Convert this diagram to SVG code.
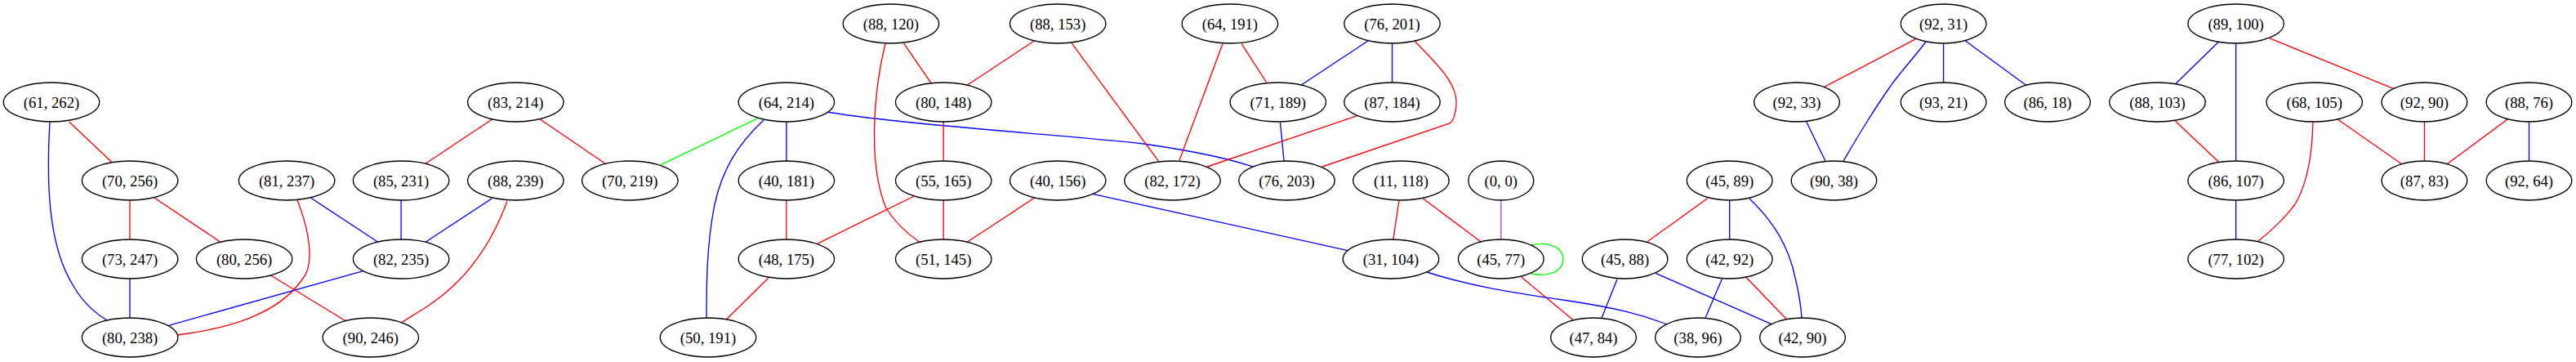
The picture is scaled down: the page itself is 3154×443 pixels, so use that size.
<svg xmlns="http://www.w3.org/2000/svg" width="3154" height="443" viewBox="0 0 3154 443">
<style>
.node ellipse{fill:none;stroke:#000;stroke-width:1.33}
.node text{font-family:"Liberation Serif","Times New Roman",serif;font-size:18.67px;text-anchor:middle;fill:#000}
#edges path,#edges line{fill:none;stroke-width:1.33}
.r{stroke:#ff0000}
.b{stroke:#0000ff}
.g{stroke:#00ff00}
.p{stroke:#a840f0}
</style>
<rect width="3154" height="443" fill="#fff"/>
<g id="edges">
<line class="r" x1="84.6" y1="149" x2="137.5" y2="199"/>
<path class="b" d="M61,149 C57,220 58,300 90,350 C100,368 115,382 131,392"/>
<line class="r" x1="159" y1="245" x2="159" y2="293"/>
<line class="r" x1="189.3" y1="242.3" x2="269.6" y2="296"/>
<line class="b" x1="159" y1="341" x2="159" y2="389"/>
<line class="b" x1="380.7" y1="242.3" x2="462.5" y2="296"/>
<path class="r" d="M364,245 C380,285 385,325 370,342 C340,385 280,402 217,410"/>
<line class="b" x1="491.1" y1="245" x2="491.1" y2="293"/>
<line class="b" x1="444.6" y1="331.7" x2="206.4" y2="398.3"/>
<line class="r" x1="332.1" y1="337.3" x2="423.2" y2="392.7"/>
<line class="r" x1="602.5" y1="146" x2="521.4" y2="200"/>
<line class="b" x1="602.5" y1="242.7" x2="521.4" y2="296"/>
<path class="r" d="M621,246 C605,290 585,320 560,345 C535,370 510,383 491,395"/>
<line class="r" x1="661.4" y1="146" x2="741.8" y2="200.7"/>
<line class="g" x1="928.6" y1="144.3" x2="807.9" y2="202.3"/>
<path class="b" d="M935,147 C905,175 885,205 875,250 C865,300 865,350 865,389"/>
<line class="b" x1="962.9" y1="149" x2="962.9" y2="197"/>
<path class="b" d="M1013,137 C1100,152 1300,165 1400,176 C1470,186 1510,196 1534,204"/>
<line class="r" x1="962.9" y1="245" x2="962.9" y2="293"/>
<line class="r" x1="941" y1="340" x2="889.3" y2="391"/>
<line class="r" x1="1119.3" y1="240" x2="1000.7" y2="298.3"/>
<path class="r" d="M1084,53 C1070,110 1062,200 1085,255 C1098,275 1112,287 1127,297"/>
<line class="r" x1="1106.8" y1="53.3" x2="1140" y2="101.7"/>
<line class="r" x1="1266.4" y1="50" x2="1184.6" y2="104"/>
<line class="r" x1="1312" y1="52.7" x2="1418.6" y2="197.3"/>
<line class="r" x1="1497.1" y1="53.3" x2="1443.6" y2="197.3"/>
<line class="r" x1="1520" y1="53.3" x2="1550.7" y2="101"/>
<line class="r" x1="1155.2" y1="149" x2="1155.2" y2="197"/>
<line class="r" x1="1155.2" y1="245" x2="1155.2" y2="293"/>
<line class="r" x1="1266.4" y1="242.3" x2="1184.6" y2="296"/>
<line class="b" x1="1337.9" y1="237.3" x2="1650.4" y2="306.7"/>
<line class="b" x1="1675" y1="50" x2="1593.3" y2="104"/>
<line class="b" x1="1704.5" y1="53" x2="1704.5" y2="101"/>
<path class="r" d="M1732,50 C1755,75 1785,100 1783,128 C1782,142 1779,148 1775,151 L1619,204"/>
<line class="r" x1="1661.7" y1="141.7" x2="1478.2" y2="204"/>
<line class="b" x1="1567.5" y1="150" x2="1572.1" y2="197.3"/>
<line class="r" x1="1712.9" y1="245.7" x2="1705.7" y2="294"/>
<line class="r" x1="1742.1" y1="242.7" x2="1812.9" y2="295.7"/>
<line class="p" x1="1837.8" y1="245" x2="1837.8" y2="293"/>
<path class="g" d="M1875,300 C1897,295 1914,303 1914,317.3 C1914,332 1897,339 1875,335"/>
<line class="r" x1="1862.9" y1="339.3" x2="1926.4" y2="391.7"/>
<path class="b" d="M1747,333 C1800,350 1850,358 1920,368 C1980,377 2010,385 2041,397"/>
<line class="r" x1="2090.7" y1="242.7" x2="2017.1" y2="295.7"/>
<line class="b" x1="2117.7" y1="245" x2="2117.7" y2="293"/>
<path class="b" d="M2142,243 C2170,270 2190,300 2198,340 C2203,360 2205,375 2206,389"/>
<line class="b" x1="1980" y1="341.7" x2="1961" y2="389.3"/>
<line class="b" x1="2027.1" y1="334.3" x2="2168.9" y2="396.7"/>
<line class="b" x1="2108.6" y1="340.7" x2="2087.9" y2="389.3"/>
<line class="r" x1="2137.9" y1="339.3" x2="2186.8" y2="390"/>
<line class="r" x1="2345.7" y1="47.7" x2="2233.2" y2="106.7"/>
<path class="b" d="M2358,51 C2340,75 2325,90 2315,105 C2290,140 2270,175 2257,197"/>
<line class="b" x1="2379.6" y1="53" x2="2379.6" y2="101"/>
<line class="b" x1="2406.4" y1="50" x2="2480.7" y2="104.3"/>
<line class="b" x1="2211.8" y1="149" x2="2235" y2="197.3"/>
<line class="b" x1="2715.9" y1="51.7" x2="2663.6" y2="102.7"/>
<line class="b" x1="2737.6" y1="53" x2="2737.6" y2="197"/>
<line class="r" x1="2778.4" y1="46.7" x2="2930.4" y2="108.3"/>
<line class="r" x1="2663.6" y1="148.3" x2="2716.6" y2="198.3"/>
<line class="r" x1="2862.2" y1="146" x2="2941" y2="201"/>
<path class="r" d="M2832,149 C2831,190 2825,225 2810,250 C2795,270 2780,283 2765,295"/>
<line class="r" x1="2968.4" y1="149" x2="2968.4" y2="197"/>
<line class="r" x1="3070" y1="146" x2="2995.8" y2="201"/>
<line class="b" x1="3096.5" y1="149" x2="3096.5" y2="197"/>
<line class="b" x1="2737.6" y1="245" x2="2737.6" y2="293"/>
</g>
<g id="n_61_262" class="node"><ellipse cx="63" cy="125" rx="58.7" ry="24"/><text x="63" y="131.5">(61, 262)</text></g>
<g id="n_70_256" class="node"><ellipse cx="159.1" cy="221" rx="58.7" ry="24"/><text x="159.1" y="227.5">(70, 256)</text></g>
<g id="n_81_237" class="node"><ellipse cx="351.1" cy="221" rx="58.7" ry="24"/><text x="351.1" y="227.5">(81, 237)</text></g>
<g id="n_85_231" class="node"><ellipse cx="491.1" cy="221" rx="58.7" ry="24"/><text x="491.1" y="227.5">(85, 231)</text></g>
<g id="n_73_247" class="node"><ellipse cx="159.1" cy="317" rx="58.7" ry="24"/><text x="159.1" y="323.5">(73, 247)</text></g>
<g id="n_80_256" class="node"><ellipse cx="299.1" cy="317" rx="58.7" ry="24"/><text x="299.1" y="323.5">(80, 256)</text></g>
<g id="n_82_235" class="node"><ellipse cx="491.1" cy="317" rx="58.7" ry="24"/><text x="491.1" y="323.5">(82, 235)</text></g>
<g id="n_80_238" class="node"><ellipse cx="159.1" cy="413" rx="58.7" ry="24"/><text x="159.1" y="419.5">(80, 238)</text></g>
<g id="n_90_246" class="node"><ellipse cx="453.8" cy="413" rx="58.7" ry="24"/><text x="453.8" y="419.5">(90, 246)</text></g>
<g id="n_83_214" class="node"><ellipse cx="631.3" cy="125" rx="58.7" ry="24"/><text x="631.3" y="131.5">(83, 214)</text></g>
<g id="n_88_239" class="node"><ellipse cx="631.3" cy="221" rx="58.7" ry="24"/><text x="631.3" y="227.5">(88, 239)</text></g>
<g id="n_70_219" class="node"><ellipse cx="771.3" cy="221" rx="58.7" ry="24"/><text x="771.3" y="227.5">(70, 219)</text></g>
<g id="n_64_214" class="node"><ellipse cx="962.9" cy="125" rx="58.7" ry="24"/><text x="962.9" y="131.5">(64, 214)</text></g>
<g id="n_40_181" class="node"><ellipse cx="962.9" cy="221" rx="58.7" ry="24"/><text x="962.9" y="227.5">(40, 181)</text></g>
<g id="n_48_175" class="node"><ellipse cx="962.9" cy="317" rx="58.7" ry="24"/><text x="962.9" y="323.5">(48, 175)</text></g>
<g id="n_50_191" class="node"><ellipse cx="867" cy="413" rx="58.7" ry="24"/><text x="867" y="419.5">(50, 191)</text></g>
<g id="n_88_120" class="node"><ellipse cx="1090.9" cy="29" rx="58.7" ry="24"/><text x="1090.9" y="35.5">(88, 120)</text></g>
<g id="n_88_153" class="node"><ellipse cx="1295.2" cy="29" rx="58.7" ry="24"/><text x="1295.2" y="35.5">(88, 153)</text></g>
<g id="n_64_191" class="node"><ellipse cx="1505.9" cy="29" rx="58.7" ry="24"/><text x="1505.9" y="35.5">(64, 191)</text></g>
<g id="n_80_148" class="node"><ellipse cx="1155.2" cy="125" rx="58.7" ry="24"/><text x="1155.2" y="131.5">(80, 148)</text></g>
<g id="n_71_189" class="node"><ellipse cx="1564.8" cy="125" rx="58.7" ry="24"/><text x="1564.8" y="131.5">(71, 189)</text></g>
<g id="n_55_165" class="node"><ellipse cx="1155.2" cy="221" rx="58.7" ry="24"/><text x="1155.2" y="227.5">(55, 165)</text></g>
<g id="n_40_156" class="node"><ellipse cx="1295.2" cy="221" rx="58.7" ry="24"/><text x="1295.2" y="227.5">(40, 156)</text></g>
<g id="n_82_172" class="node"><ellipse cx="1435.5" cy="221" rx="58.7" ry="24"/><text x="1435.5" y="227.5">(82, 172)</text></g>
<g id="n_76_203" class="node"><ellipse cx="1575.5" cy="221" rx="58.7" ry="24"/><text x="1575.5" y="227.5">(76, 203)</text></g>
<g id="n_51_145" class="node"><ellipse cx="1155.2" cy="317" rx="58.7" ry="24"/><text x="1155.2" y="323.5">(51, 145)</text></g>
<g id="n_76_201" class="node"><ellipse cx="1704.5" cy="29" rx="58.7" ry="24"/><text x="1704.5" y="35.5">(76, 201)</text></g>
<g id="n_87_184" class="node"><ellipse cx="1704.5" cy="125" rx="58.7" ry="24"/><text x="1704.5" y="131.5">(87, 184)</text></g>
<g id="n_11_118" class="node"><ellipse cx="1715.4" cy="221" rx="58.7" ry="24"/><text x="1715.4" y="227.5">(11, 118)</text></g>
<g id="n_0_0" class="node"><ellipse cx="1837.8" cy="221" rx="40" ry="24"/><text x="1837.8" y="227.5">(0, 0)</text></g>
<g id="n_45_89" class="node"><ellipse cx="2117.7" cy="221" rx="52.3" ry="24"/><text x="2117.7" y="227.5">(45, 89)</text></g>
<g id="n_31_104" class="node"><ellipse cx="1703" cy="317" rx="58.7" ry="24"/><text x="1703" y="323.5">(31, 104)</text></g>
<g id="n_45_77" class="node"><ellipse cx="1837.8" cy="317" rx="52.3" ry="24"/><text x="1837.8" y="323.5">(45, 77)</text></g>
<g id="n_45_88" class="node"><ellipse cx="1989.6" cy="317" rx="52.3" ry="24"/><text x="1989.6" y="323.5">(45, 88)</text></g>
<g id="n_42_92" class="node"><ellipse cx="2117.7" cy="317" rx="52.3" ry="24"/><text x="2117.7" y="323.5">(42, 92)</text></g>
<g id="n_47_84" class="node"><ellipse cx="1951" cy="413" rx="52.3" ry="24"/><text x="1951" y="419.5">(47, 84)</text></g>
<g id="n_38_96" class="node"><ellipse cx="2078.9" cy="413" rx="52.3" ry="24"/><text x="2078.9" y="419.5">(38, 96)</text></g>
<g id="n_42_90" class="node"><ellipse cx="2207" cy="413" rx="52.3" ry="24"/><text x="2207" y="419.5">(42, 90)</text></g>
<g id="n_92_31" class="node"><ellipse cx="2379.6" cy="29" rx="52.3" ry="24"/><text x="2379.6" y="35.5">(92, 31)</text></g>
<g id="n_92_33" class="node"><ellipse cx="2200" cy="125" rx="52.3" ry="24"/><text x="2200" y="131.5">(92, 33)</text></g>
<g id="n_93_21" class="node"><ellipse cx="2379.6" cy="125" rx="52.3" ry="24"/><text x="2379.6" y="131.5">(93, 21)</text></g>
<g id="n_86_18" class="node"><ellipse cx="2507" cy="125" rx="52.3" ry="24"/><text x="2507" y="131.5">(86, 18)</text></g>
<g id="n_90_38" class="node"><ellipse cx="2245.5" cy="221" rx="52.3" ry="24"/><text x="2245.5" y="227.5">(90, 38)</text></g>
<g id="n_89_100" class="node"><ellipse cx="2737.6" cy="29" rx="58.7" ry="24"/><text x="2737.6" y="35.5">(89, 100)</text></g>
<g id="n_88_103" class="node"><ellipse cx="2641.5" cy="125" rx="58.7" ry="24"/><text x="2641.5" y="131.5">(88, 103)</text></g>
<g id="n_68_105" class="node"><ellipse cx="2833.7" cy="125" rx="58.7" ry="24"/><text x="2833.7" y="131.5">(68, 105)</text></g>
<g id="n_92_90" class="node"><ellipse cx="2968.4" cy="125" rx="52.3" ry="24"/><text x="2968.4" y="131.5">(92, 90)</text></g>
<g id="n_88_76" class="node"><ellipse cx="3096.5" cy="125" rx="52.3" ry="24"/><text x="3096.5" y="131.5">(88, 76)</text></g>
<g id="n_86_107" class="node"><ellipse cx="2737.6" cy="221" rx="58.7" ry="24"/><text x="2737.6" y="227.5">(86, 107)</text></g>
<g id="n_87_83" class="node"><ellipse cx="2968.4" cy="221" rx="52.3" ry="24"/><text x="2968.4" y="227.5">(87, 83)</text></g>
<g id="n_92_64" class="node"><ellipse cx="3096.5" cy="221" rx="52.3" ry="24"/><text x="3096.5" y="227.5">(92, 64)</text></g>
<g id="n_77_102" class="node"><ellipse cx="2737.6" cy="317" rx="58.7" ry="24"/><text x="2737.6" y="323.5">(77, 102)</text></g>
</svg>
